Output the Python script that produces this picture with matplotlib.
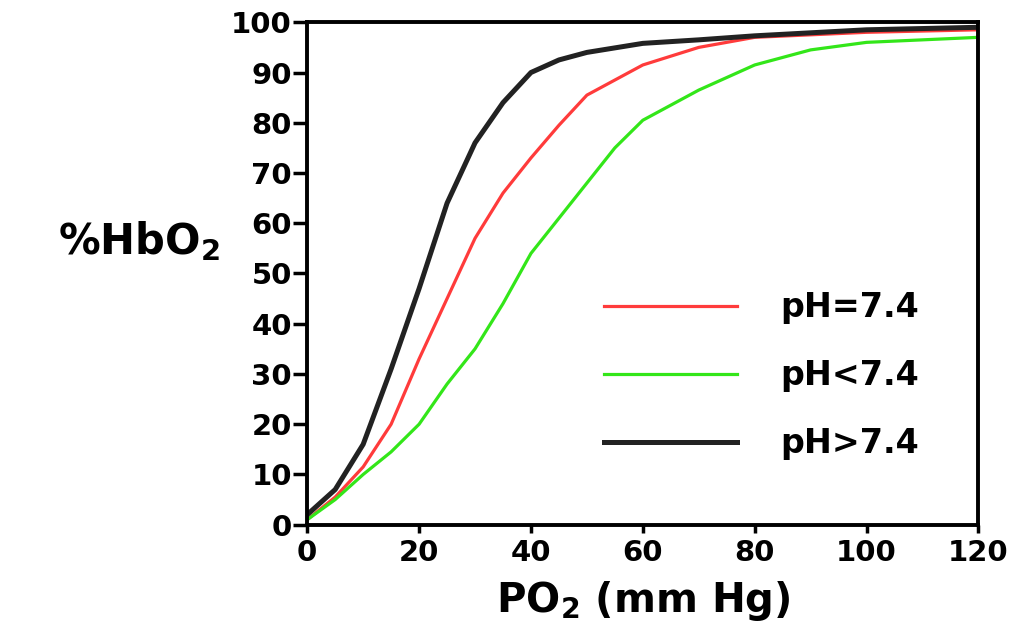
import numpy as np
import matplotlib
matplotlib.use("Agg")
import matplotlib.pyplot as plt

## 글꼴 설정 (wide bold sans)
plt.rcParams['font.family'] = ['DejaVu Sans']
plt.rcParams['font.weight'] = 'bold'
plt.rcParams['mathtext.fontset'] = 'custom'
plt.rcParams['mathtext.rm'] = 'DejaVu Sans:bold'
plt.rcParams['mathtext.it'] = 'DejaVu Sans:bold'
plt.rcParams['mathtext.bf'] = 'DejaVu Sans:bold'

## data
po2_black = [0, 5, 10, 15, 20, 25, 30, 35, 40, 45, 50, 60, 70, 80, 100, 120]
hbo2_black = [2, 7, 16, 31, 47, 64, 76, 84, 90, 92.5, 94, 95.8, 96.5, 97.3, 98.5, 99]

po2_red = [0, 5, 10, 15, 20, 25, 30, 35, 40, 45, 50, 55, 60, 70, 80, 100, 120]
hbo2_red = [1, 5.5, 11.5, 20, 33, 45, 57, 66, 73, 79.5, 85.5, 88.5, 91.5, 95, 97, 98, 98.5]

po2_green = [0, 5, 10, 15, 20, 25, 30, 35, 40, 45, 50, 55, 60, 70, 80, 90, 100, 120]
hbo2_green = [1, 5, 10, 14.5, 20, 28, 35, 44, 54, 61, 68, 75, 80.5, 86.5, 91.5, 94.5, 96, 97]

labels = ["pH=7.4", "pH<7.4", "pH>7.4"]
x_ticks = [0, 20, 40, 60, 80, 100, 120]
y_ticks = [0, 10, 20, 30, 40, 50, 60, 70, 80, 90, 100]

fig = plt.figure(figsize=(10.31, 6.36), dpi=100)
ax = fig.add_axes([0.298, 0.175, 0.651, 0.79])

l1, = ax.plot(po2_red, hbo2_red, color='#ff3b3b', lw=2.3, label=labels[0])
l2, = ax.plot(po2_green, hbo2_green, color='#33e619', lw=2.3, label=labels[1])
l3, = ax.plot(po2_black, hbo2_black, color='#222222', lw=3.6, label=labels[2])

ax.set_xlim(0, 120)
ax.set_ylim(0, 100)
ax.set_xticks(x_ticks)
ax.set_yticks(y_ticks)

for s in ax.spines.values():
    s.set_linewidth(2.8)
    s.set_color('black')

ax.tick_params(axis='y', direction='out', length=10, width=2.5, labelsize=21, pad=1)
ax.tick_params(axis='x', direction='out', length=6, width=2.5, labelsize=21, pad=4)

ax.set_xlabel('PO$_2$ (mm Hg)', fontsize=29, fontweight='bold', labelpad=9)
ax.set_ylabel('%HbO$_2$', fontsize=30, fontweight='bold', rotation=0, ha='right', va='center')
ax.yaxis.set_label_coords(-0.13, 0.565)

leg = ax.legend(handles=[l1, l2, l3], loc='center left', bbox_to_anchor=(0.397, 0.296),
                frameon=False, fontsize=24, handlelength=4.0, handletextpad=1.3,
                labelspacing=1.05)

fig.savefig('out.png', dpi=100)
